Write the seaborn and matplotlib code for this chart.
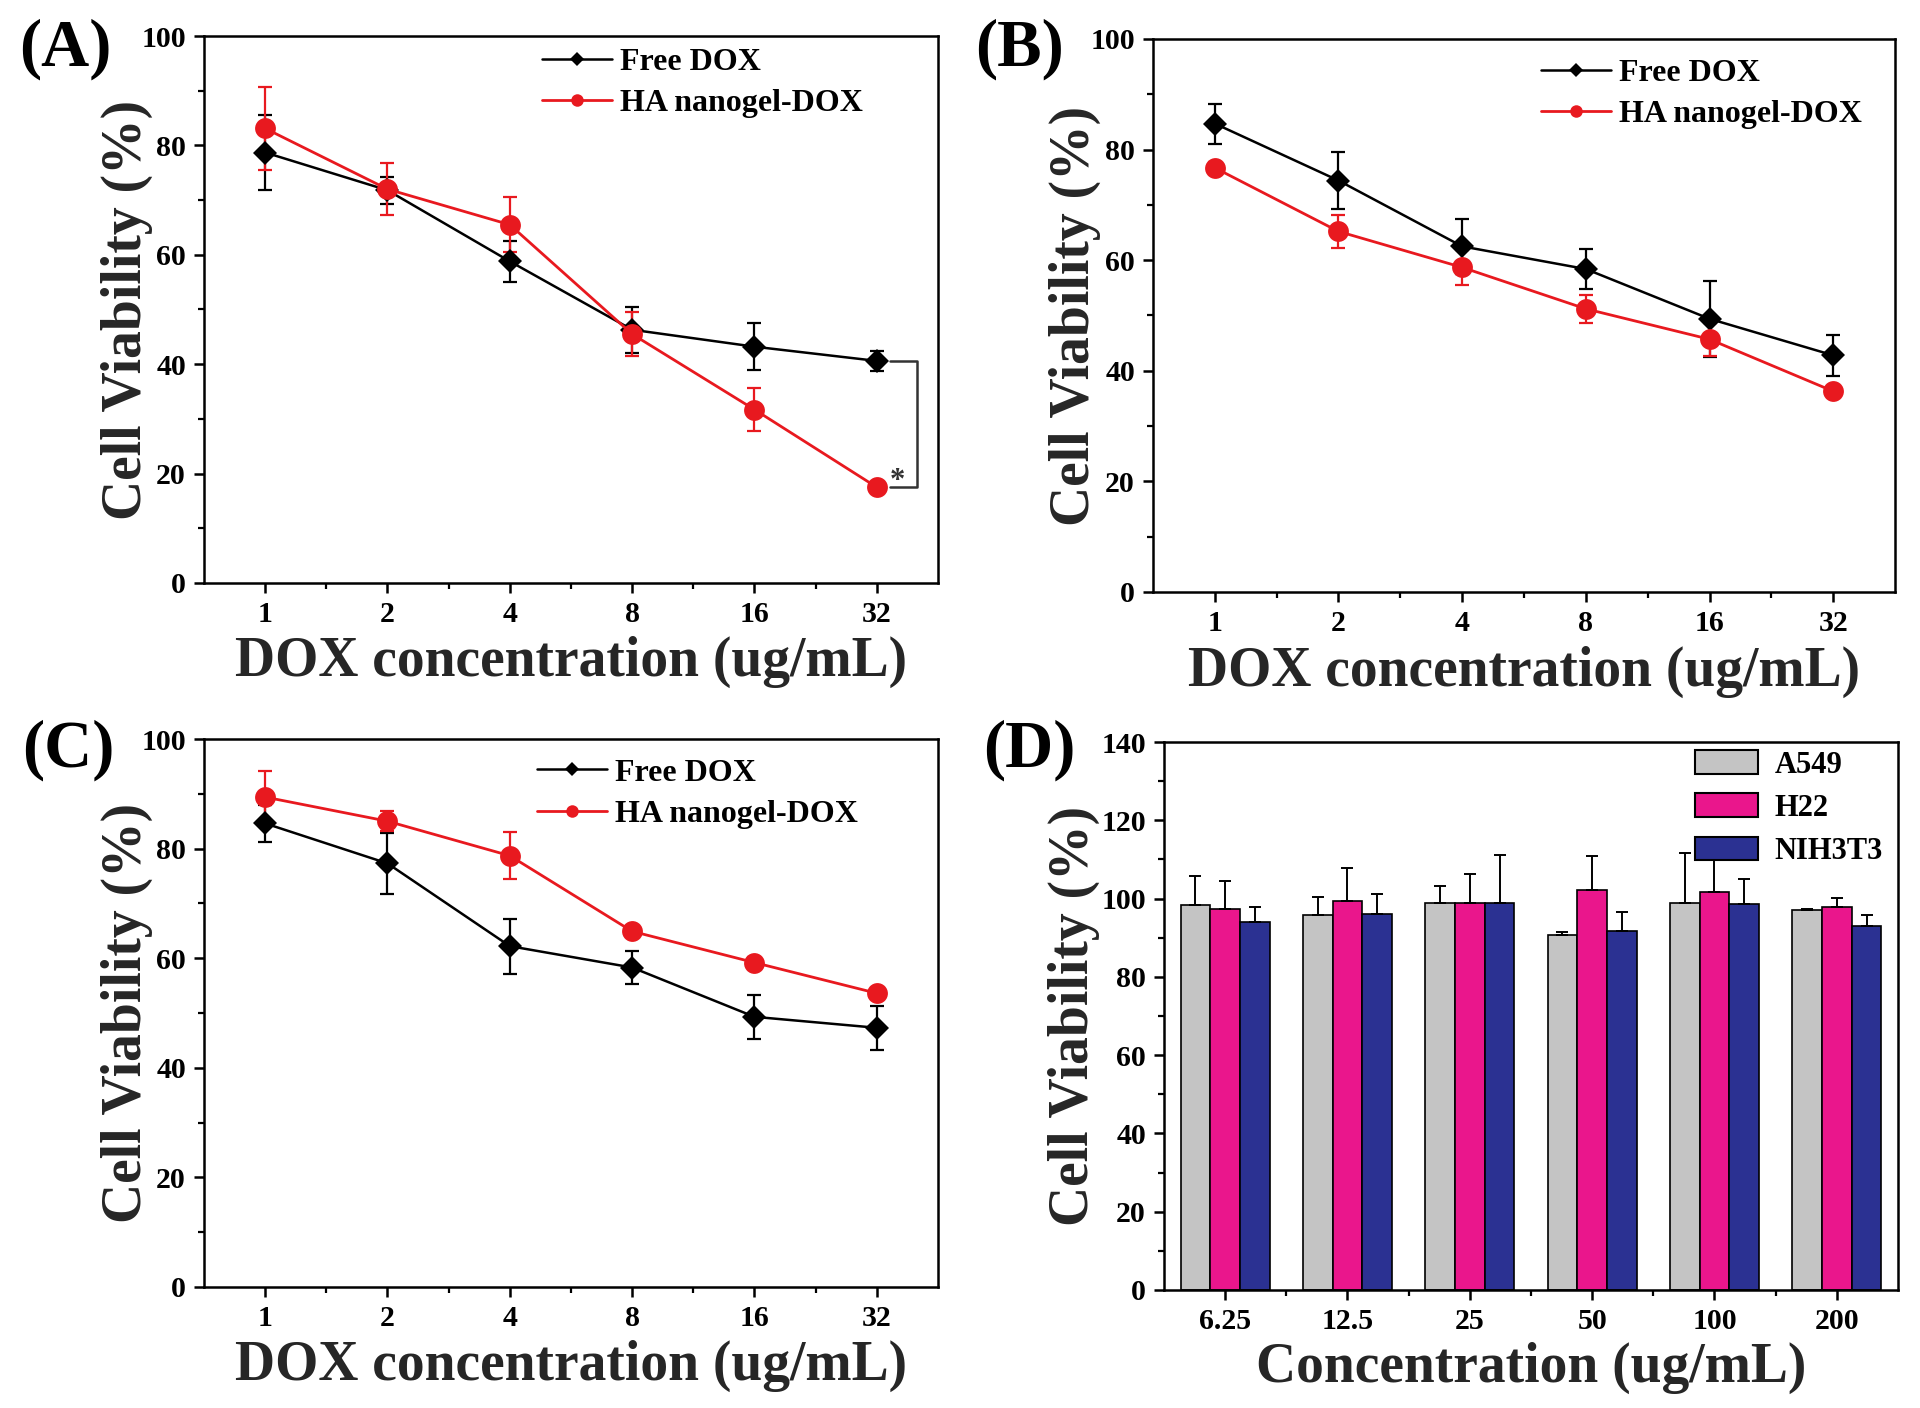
import numpy as np
import pandas as pd
import matplotlib
matplotlib.use("Agg")
import matplotlib.pyplot as plt
import seaborn as sns
from matplotlib.ticker import FixedLocator, MultipleLocator, NullFormatter

# -----------------------
# Data
# -----------------------

conc = [1, 2, 4, 8, 16, 32]
conc_labels = ["1", "2", "4", "8", "16", "32"]

# panel A
a_free = [78.7, 71.8, 58.8, 46.3, 43.2, 40.6]
a_free_err = [6.8, 2.5, 3.8, 4.2, 4.3, 1.8]
a_ha = [83.1, 72.0, 65.5, 45.5, 31.7, 17.5]
a_ha_err = [7.6, 4.8, 5.0, 4.0, 4.0, 0.6]

# panel B
b_free = [84.7, 74.4, 62.5, 58.4, 49.4, 42.8]
b_free_err = [3.6, 5.2, 5.0, 3.7, 6.9, 3.7]
b_ha = [76.7, 65.2, 58.7, 51.2, 45.7, 36.3]
b_ha_err = [1.0, 3.0, 3.2, 2.5, 3.0, 1.0]

# panel C
c_free = [84.6, 77.3, 62.2, 58.3, 49.3, 47.3]
c_free_err = [3.4, 5.5, 5.0, 3.0, 4.0, 4.0]
c_ha = [89.4, 85.0, 78.7, 64.9, 59.2, 53.6]
c_ha_err = [4.8, 1.8, 4.3, 1.0, 1.0, 1.0]

# panel D
conc_d = ["6.25", "12.5", "25", "50", "100", "200"]
cells = ["A549", "H22", "NIH3T3"]
a549 = [98.3, 95.8, 98.9, 90.6, 98.9, 97.0]
a549_err = [7.5, 4.7, 4.4, 0.9, 12.7, 0.4]
h22 = [97.3, 99.5, 98.9, 102.1, 101.6, 97.8]
h22_err = [7.2, 8.2, 7.4, 8.8, 9.5, 2.4]
nih = [94.1, 96.0, 98.9, 91.8, 98.5, 92.9]
nih_err = [3.7, 5.2, 12.3, 4.8, 6.6, 2.8]

BLACK = "#000000"
RED = "#e8191f"
bar_colors = {"A549": "#c4c4c4", "H22": "#ea168c", "NIH3T3": "#2b3192"}

# -----------------------
# Style
# -----------------------

sns.set_style("ticks")
plt.rcParams["font.family"] = ["Liberation Serif", "DejaVu Serif"]
plt.rcParams["font.weight"] = "bold"
plt.rcParams["axes.labelweight"] = "bold"
plt.rcParams["axes.edgecolor"] = "black"
plt.rcParams["xtick.color"] = "black"
plt.rcParams["ytick.color"] = "black"
plt.rcParams["text.color"] = "black"

fig = plt.figure(figsize=(19.2, 14.08), dpi=100)


def style_axes(ax):
    for s in ax.spines.values():
        s.set_visible(True)
        s.set_linewidth(1.8)
        s.set_color("black")
    ax.tick_params(which="major", direction="out", length=7, width=1.8,
                   labelsize=21.5, pad=6, top=False, right=False)
    ax.tick_params(which="minor", direction="out", length=4, width=1.6,
                   top=False, right=False)


def line_panel(ax, free, free_err, ha, ha_err, leg_xy):
    sns.lineplot(x=conc, y=free, color=BLACK, marker="D", markersize=12.5,
                 markeredgewidth=0, linewidth=1.8, errorbar=None,
                 label="Free DOX", ax=ax, zorder=4)
    sns.lineplot(x=conc, y=ha, color=RED, marker="o", markersize=15,
                 markeredgewidth=0, linewidth=2.0, errorbar=None,
                 label="HA nanogel-DOX", ax=ax, zorder=4)
    ax.errorbar(conc, free, yerr=free_err, fmt="none", ecolor=BLACK,
                elinewidth=1.6, capsize=5, capthick=1.6, zorder=3)
    ax.errorbar(conc, ha, yerr=ha_err, fmt="none", ecolor=RED,
                elinewidth=1.6, capsize=5, capthick=1.6, zorder=3)

    ax.set_xscale("log", base=2)
    ax.set_xlim(2 ** -0.5, 2 ** 5.5)
    ax.xaxis.set_major_locator(FixedLocator(conc))
    ax.set_xticklabels(conc_labels)
    ax.xaxis.set_minor_locator(FixedLocator([c * 2 ** 0.5 for c in conc[:-1]]))
    ax.xaxis.set_minor_formatter(NullFormatter())

    ax.set_ylim(0, 100)
    ax.yaxis.set_major_locator(MultipleLocator(20))
    ax.yaxis.set_minor_locator(MultipleLocator(10))

    ax.set_xlabel("DOX concentration (ug/mL)", fontsize=40)
    ax.set_ylabel("Cell Viability (%)", fontsize=40)
    ax.xaxis.set_label_coords(0.5, -0.097)
    ax.yaxis.set_label_coords(-0.07, 0.5)

    ax.legend(loc="upper left", bbox_to_anchor=leg_xy, frameon=False,
              fontsize=23, handlelength=2.2, handletextpad=0.25,
              labelspacing=0.38, borderaxespad=0, borderpad=0,
              markerscale=0.6)
    style_axes(ax)


# -----------------------
# Panel A
# -----------------------

axA = fig.add_axes([0.10625, 0.58594, 0.38229, 0.38849])
line_panel(axA, a_free, a_free_err, a_ha, a_ha_err, (0.46, 0.979))

# significance bracket between the two last points
bx0 = conc[-1] * 2 ** 0.11
bx1 = conc[-1] * 2 ** 0.33
axA.plot([bx0, bx1, bx1, bx0], [a_free[-1], a_free[-1], a_ha[-1], a_ha[-1]],
         color="#333333", linewidth=1.8, zorder=2)
axA.text(conc[-1] * 2 ** 0.17, a_ha[-1] - 0.3, "*", fontsize=22,
         ha="center", va="baseline", color="#333333")

# -----------------------
# Panel B
# -----------------------

axB = fig.add_axes([0.60052, 0.57955, 0.38646, 0.39276])
line_panel(axB, b_free, b_free_err, b_ha, b_ha_err, (0.523, 0.965))

# -----------------------
# Panel C
# -----------------------

axC = fig.add_axes([0.10625, 0.08594, 0.38229, 0.38920])
line_panel(axC, c_free, c_free_err, c_ha, c_ha_err, (0.453, 0.965))

# -----------------------
# Panel D
# -----------------------

axD = fig.add_axes([0.60625, 0.08381, 0.38229, 0.38920])

dfd = pd.DataFrame({
    "conc": conc_d * 3,
    "viability": a549 + h22 + nih,
    "cell": ["A549"] * 6 + ["H22"] * 6 + ["NIH3T3"] * 6,
})

sns.barplot(data=dfd, x="conc", y="viability", hue="cell", order=conc_d,
            hue_order=cells, palette=bar_colors, saturation=1, width=0.73,
            errorbar=None, edgecolor="black", linewidth=1.2, ax=axD)

for container, errs in zip(axD.containers, [a549_err, h22_err, nih_err]):
    xs = [b.get_x() + b.get_width() / 2 for b in container]
    hs = [b.get_height() for b in container]
    axD.errorbar(xs, hs, yerr=[np.zeros(len(errs)), errs], fmt="none",
                 ecolor="black", elinewidth=1.4, capsize=4.5, capthick=1.4,
                 zorder=3)

axD.set_xlim(-0.5, len(conc_d) - 0.5)
axD.xaxis.set_minor_locator(FixedLocator(np.arange(0.5, len(conc_d) - 1, 1)))
axD.set_ylim(0, 140)
axD.yaxis.set_major_locator(MultipleLocator(20))
axD.yaxis.set_minor_locator(MultipleLocator(10))
axD.set_xlabel("Concentration (ug/mL)", fontsize=40)
axD.set_ylabel("Cell Viability (%)", fontsize=40)
axD.xaxis.set_label_coords(0.5, -0.095)
axD.yaxis.set_label_coords(-0.087, 0.5)

sns.move_legend(axD, "upper left", bbox_to_anchor=(0.723, 0.985),
                frameon=False, title=None, fontsize=22, handlelength=2.06,
                handleheight=0.82, handletextpad=0.55, labelspacing=0.45,
                borderaxespad=0, borderpad=0)
for p in axD.get_legend().get_patches():
    p.set_edgecolor("black")
    p.set_linewidth(1.5)
style_axes(axD)

# -----------------------
# Panel letters
# -----------------------

for letter, x, y in [("(A)", 65, 49), ("(B)", 1020, 49),
                     ("(C)", 68, 750), ("(D)", 1029, 750)]:
    fig.text(x / 1920, 1 - y / 1408, letter, fontsize=48, fontweight="bold",
             ha="center", va="center")

fig.savefig("out.png", dpi=100)
plt.close()
